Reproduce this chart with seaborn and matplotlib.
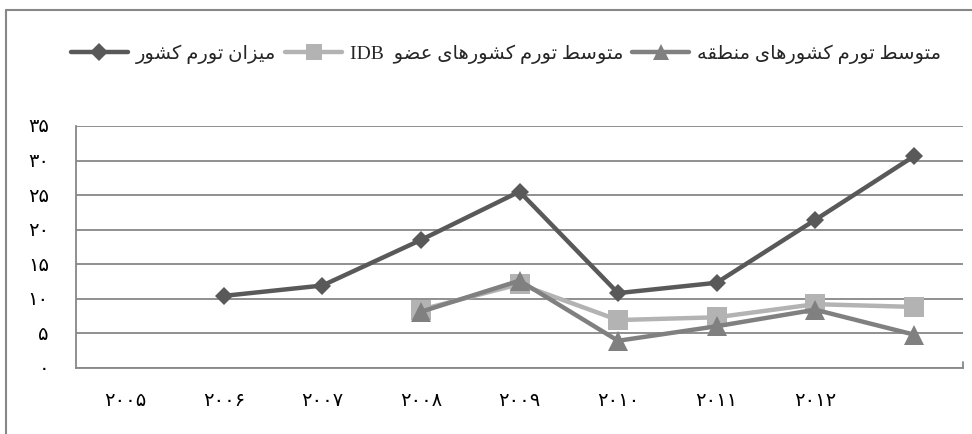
import numpy as np
import pandas as pd
import matplotlib
matplotlib.use("Agg")
import matplotlib.pyplot as plt
from matplotlib.lines import Line2D
import seaborn as sns

# ---------------- data ----------------
years = ["2005", "2006", "2007", "2008", "2009", "2010", "2011", "2012", "2013"]
year_labels = ["۲۰۰۵", "۲۰۰۶", "۲۰۰۷", "۲۰۰۸", "۲۰۰۹", "۲۰۱۰", "۲۰۱۱", "۲۰۱۲", ""]
country_inflation = [np.nan, 10.4, 11.9, 18.5, 25.5, 10.8, 12.3, 21.4, 30.6]
idb_inflation = [np.nan, np.nan, np.nan, 8.4, 12.1, 6.9, 7.3, 9.2, 8.8]
region_inflation = [np.nan, np.nan, np.nan, 8.1, 12.6, 3.9, 6.0, 8.4, 4.8]
series_names = ["میزان تورم کشور", "متوسط تورم کشورهای عضو IDB", "متوسط تورم کشورهای منطقه"]
y_ticks = [0, 5, 10, 15, 20, 25, 30, 35]
y_tick_labels = ["۰", "۵", "۱۰", "۱۵", "۲۰", "۲۵", "۳۰", "۳۵"]

# ------------- minimal Arabic/Persian shaping (matplotlib has no CTL) -------------
# letter: (isolated, final, initial, medial); None for initial/medial => right-joining only
FORMS = {
    "ا": ("\uFE8D", "\uFE8E", None, None),
    "ت": ("\uFE95", "\uFE96", "\uFE97", "\uFE98"),
    "ر": ("\uFEAD", "\uFEAE", None, None),
    "ز": ("\uFEAF", "\uFEB0", None, None),
    "س": ("\uFEB1", "\uFEB2", "\uFEB3", "\uFEB4"),
    "ش": ("\uFEB5", "\uFEB6", "\uFEB7", "\uFEB8"),
    "ض": ("\uFEBD", "\uFEBE", "\uFEBF", "\uFEC0"),
    "ط": ("\uFEC1", "\uFEC2", "\uFEC3", "\uFEC4"),
    "ع": ("\uFEC9", "\uFECA", "\uFECB", "\uFECC"),
    "ق": ("\uFED5", "\uFED6", "\uFED7", "\uFED8"),
    "ل": ("\uFEDD", "\uFEDE", "\uFEDF", "\uFEE0"),
    "م": ("\uFEE1", "\uFEE2", "\uFEE3", "\uFEE4"),
    "ن": ("\uFEE5", "\uFEE6", "\uFEE7", "\uFEE8"),
    "ه": ("\uFEE9", "\uFEEA", "\uFEEB", "\uFEEC"),
    "و": ("\uFEED", "\uFEEE", None, None),
    "ی": ("\uFBFC", "\uFBFD", "\uFBFE", "\uFBFF"),
    "ک": ("\uFB8E", "\uFB8F", "\uFB90", "\uFB91"),
}


def shape_word(w):
    out = []
    for i, ch in enumerate(w):
        if ch not in FORMS:
            out.append(ch)
            continue
        f = FORMS[ch]
        prev = w[i - 1] if i > 0 else None
        nxt = w[i + 1] if i + 1 < len(w) else None
        join_prev = prev in FORMS and FORMS[prev][2] is not None
        join_next = f[2] is not None and nxt in FORMS
        if join_prev and join_next:
            out.append(f[3])
        elif join_prev:
            out.append(f[1])
        elif join_next:
            out.append(f[2])
        else:
            out.append(f[0])
    return "".join(out)


def rtl(text):
    words = text.split(" ")
    vis = []
    for w in words:
        if any(c in FORMS for c in w):
            vis.append(shape_word(w)[::-1])
        else:
            vis.append(w)
    vis = vis[::-1]
    s = " ".join(vis)
    return s.replace("IDB ", "IDB  ")


# ---------------- figure ----------------
sns.set_style("white")
plt.rcParams["font.family"] = ["Liberation Serif", "DejaVu Sans"]

fig = plt.figure(figsize=(9.72, 4.34), dpi=100)
ax = fig.add_axes([76 / 972, 1 - 367.7 / 434, (963 - 76) / 972, (367.7 - 126) / 434])

x = np.arange(len(years))
df = pd.DataFrame({"x": x, "country": country_inflation, "idb": idb_inflation, "region": region_inflation})

c_country = "#595959"
c_idb = "#b3b3b3"
c_region = "#808080"

sns.lineplot(data=df, x="x", y="region", ax=ax, color=c_region, lw=3.2, marker="^",
             markersize=14, markeredgewidth=0, zorder=3)
sns.lineplot(data=df, x="x", y="idb", ax=ax, color=c_idb, lw=3.2, marker="s",
             markersize=14, markeredgewidth=0, zorder=2)
sns.lineplot(data=df, x="x", y="country", ax=ax, color=c_country, lw=3.2, marker="D",
             markersize=9.5, markeredgewidth=0, zorder=4)

grid_c = "#878787"
ax.set_xlim(-0.5, 8.5)
ax.set_ylim(0, 35)
ax.set_yticks(y_ticks)
ax.set_yticklabels(y_tick_labels, fontsize=14)
ax.set_xticks(list(x))
ax.set_xticklabels(year_labels, fontsize=14)
ax.set_xlabel("")
ax.set_ylabel("")

ax.yaxis.grid(True, color=grid_c, lw=1.3)
ax.xaxis.grid(False)
for s in ["top", "right"]:
    ax.spines[s].set_visible(False)
for s in ["left", "bottom"]:
    ax.spines[s].set_color(grid_c)
    ax.spines[s].set_linewidth(1.3)
ax.tick_params(axis="y", direction="out", length=6.5, width=1.3, color=grid_c, pad=13, labelcolor="black")
ax.tick_params(axis="x", direction="in", length=4.5, width=1.3, color=grid_c, pad=18.5, labelcolor="black")
# end tick at the right edge of the category axis
ax.plot([8.5, 8.5], [0, 0.8], color=grid_c, lw=1.3, clip_on=False, zorder=1)

# legend
handles = [
    Line2D([], [], color=c_country, lw=3.2, marker="D", markersize=9.5, markeredgewidth=0),
    Line2D([], [], color=c_idb, lw=3.2, marker="s", markersize=12, markeredgewidth=0),
    Line2D([], [], color=c_region, lw=3.2, marker="^", markersize=12, markeredgewidth=0),
]
fig.legend(handles, [rtl(n) for n in series_names], loc="center",
           bbox_to_anchor=(506 / 972, 1 - 54 / 434), ncol=3, frameon=False,
           fontsize=14, handlelength=2.95, handletextpad=0.4, columnspacing=0.45,
           numpoints=1)

# outer frame (left and top edges visible)
fig.add_artist(Line2D([6 / 972, 6 / 972], [0, 1 - 10 / 434], color=grid_c, lw=1.5,
                      transform=fig.transFigure))
fig.add_artist(Line2D([6 / 972, 1], [1 - 10 / 434, 1 - 10 / 434], color=grid_c, lw=1.5,
                      transform=fig.transFigure))

fig.savefig("out.png", dpi=100)
